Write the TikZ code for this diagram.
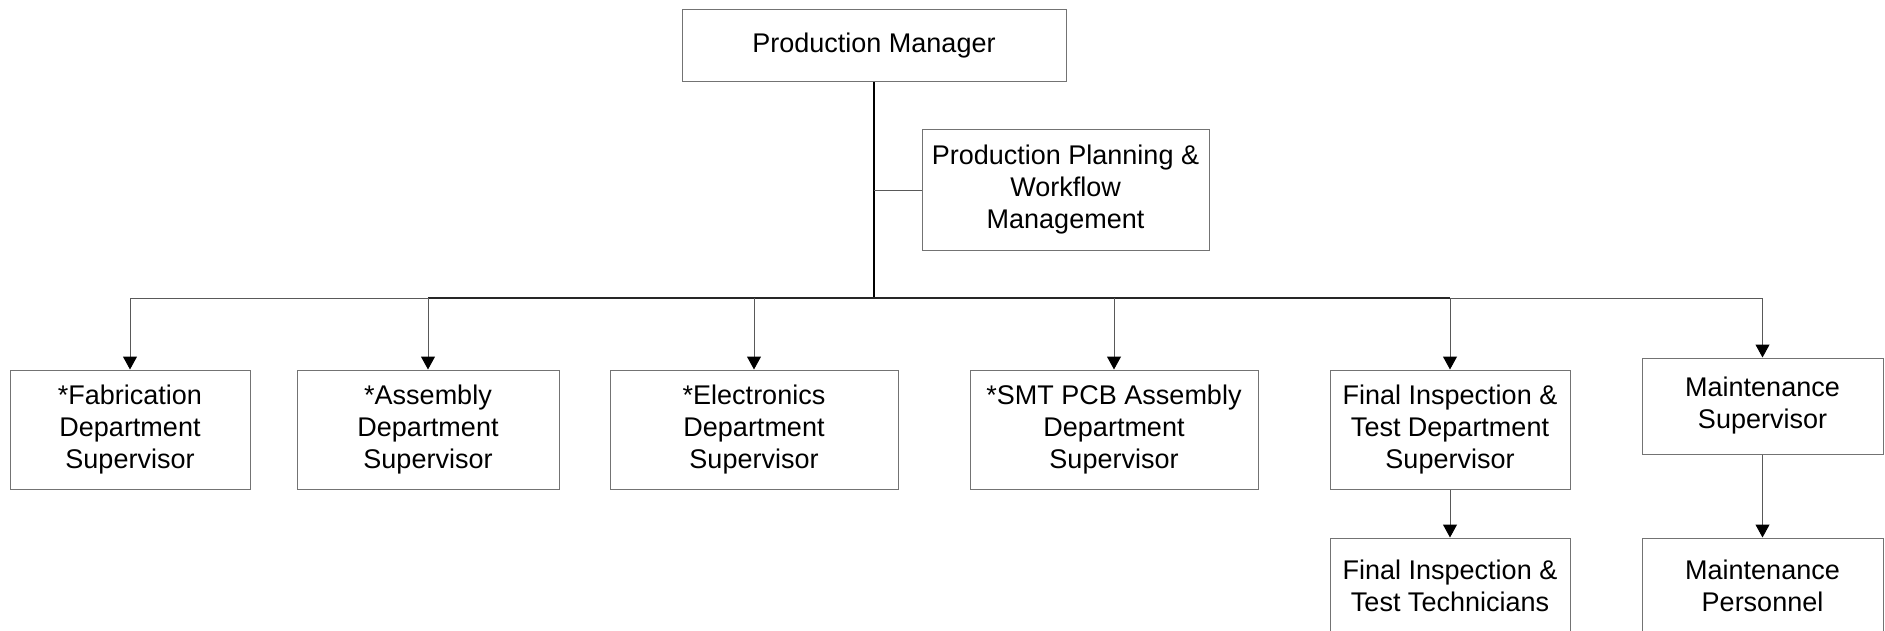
\documentclass[tikz,border=0pt]{standalone}
\usepackage{fontspec}
\setmainfont{Liberation Sans}
\usepackage{tikz}
\usetikzlibrary{arrows.meta}
\usetikzlibrary{calc}

\begin{document}
\begin{tikzpicture}[
    x=0.5pt, y=-0.5pt,
    box/.style={draw=black!55, line width=0.5pt, align=center, inner sep=0pt,
        minimum height=59.5pt, font=\fontsize{13.5}{16}\selectfont},
    low box/.style={box, minimum height=48pt},
    link/.style={draw=black!65, line width=0.5pt, -{Triangle[width=7pt,length=6.5pt,color=black]}},
    trunk line/.style={draw=black, line width=1pt},
    bus line/.style={draw=black!65, line width=0.5pt},
    dark bus/.style={draw=black!85, line width=0.8pt},
    side line/.style={draw=black!65, line width=0.5pt}
    ]

    \useasboundingbox (0,0) rectangle (1885,631);
    \clip (0,0) rectangle (1885,631);

    % top of the chart
    \node[box, minimum width=192pt, minimum height=36pt] (pm) at (874,46) {Production Manager};
    \node[box, minimum width=143.5pt, minimum height=60pt] (pp) at (1065.5,190) {Production Planning \&\\Workflow\\Management};
    \coordinate (bus) at (874,298);

    % departments
    \node[box, minimum width=120pt] (fab) at (130,429.5) {*Fabrication\\Department\\Supervisor};
    \node[box, minimum width=131pt] (asm) at (428,429.5) {*Assembly\\Department\\Supervisor};
    \node[box, minimum width=144pt] (elec) at (754,429.5) {*Electronics\\Department\\Supervisor};
    \node[box, minimum width=144pt] (smt) at (1114,429.5) {*SMT PCB Assembly\\Department\\Supervisor};
    \node[box, minimum width=120pt] (fit) at (1450,429.5) {Final Inspection \&\\Test Department\\Supervisor};
    \node[low box, minimum width=120.5pt] (ms) at (1762.5,406) {Maintenance\\Supervisor};

    % staff
    \node[low box, minimum width=120pt] (fitstaff) at (1450,586) {Final Inspection \&\\Test Technicians};
    \node[low box, minimum width=120.5pt] (mstaff) at (1762.5,586) {Maintenance\\Personnel};

    % connectors
    \draw[trunk line] (pm) -- (bus);
    \draw[side line] (pm.south |- pp) -- (pp);
    \draw[bus line] (fab.north |- bus) -- (ms.north |- bus);
    \draw[dark bus] (asm.north |- bus) -- (fit.north |- bus);
    \foreach \dept in {fab, asm, elec, smt, fit, ms}
        \draw[link] (\dept.north |- bus) -- (\dept.north);
    \draw[link] (fit) -- (fitstaff);
    \draw[link] (ms) -- (mstaff);
\end{tikzpicture}
\end{document}
